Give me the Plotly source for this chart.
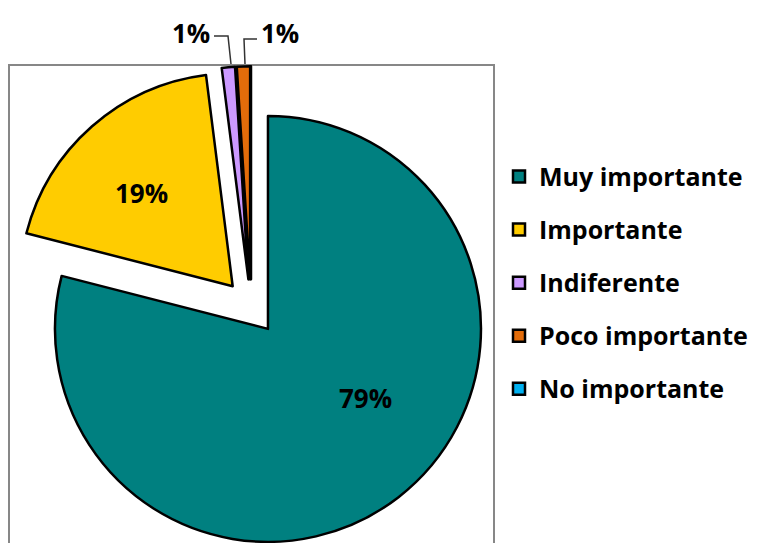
import plotly.graph_objects as go

# Survey answers and their counts
categories = ["Muy importante", "Importante", "Indiferente", "Poco importante", "No importante"]
values = [79, 19, 1, 1, 0]
colors = ["#008080", "#FFCC00", "#CC99FF", "#E36C0A", "#00B0F0"]

W, H = 757, 548
FONT = "Open Sans"


def px(x, y):
    """Pixel position -> paper coordinates."""
    return x / W, 1 - y / H


total = sum(values)
pct = [f"{round(v / total * 100)}%" for v in values]

# pie centre, radius and explosion
cx, cy, r, pull = 251, 307, 213, 0.13
half = r * (1 + pull)
fig = go.Figure(
    go.Pie(
        labels=[f"<span style='font-size:25px;baseline-shift:6px'>{c}</span>" for c in categories],
        values=values,
        sort=False,
        direction="clockwise",
        rotation=0,
        pull=pull,
        marker=dict(colors=colors, line=dict(color="black", width=2.5)),
        textinfo="none",
        domain=dict(x=[(cx - half - 4) / W, (cx + half + 4) / W],
                    y=[max(0, 1 - (cy + half) / H), 1 - (cy - half) / H]),
        hoverinfo="label+percent",
    )
)

label_font = dict(family=FONT, size=26, color="black", weight="bold")

# value labels inside the two large slices
for idx, (tx, ty) in [(0, (365, 398)), (1, (141, 193))]:
    X, Y = px(tx, ty)
    fig.add_annotation(x=X, y=Y, xref="paper", yref="paper", text=pct[idx],
                       showarrow=False, xanchor="center", yanchor="middle", font=label_font)

# callouts for the two thin slices
callouts = [
    (2, (191, 33), "M 214,36 L 228,36 L 231,64"),
    (3, (280, 33), "M 257,39 L 244,39 L 245,64"),
]
for idx, (tx, ty), path in callouts:
    X, Y = px(tx, ty)
    fig.add_annotation(x=X, y=Y, xref="paper", yref="paper", text=pct[idx],
                       showarrow=False, xanchor="center", yanchor="middle", font=label_font)
    pts = []
    for tok in path.split():
        if tok in ("M", "L"):
            pts.append(tok)
        else:
            x, y = map(float, tok.split(","))
            PX, PY = px(x, y)
            pts.append(f"{PX:.5f},{PY:.5f}")
    fig.add_shape(type="path", path=" ".join(pts), xref="paper", yref="paper",
                  line=dict(color="#333333", width=1.5))

# plot-area frame
x0, y0 = px(9, 65)
x1, _ = px(494, 65)
fig.add_shape(type="rect", xref="paper", yref="paper", x0=x0, x1=x1, y0=-0.05, y1=y0,
              line=dict(color="#878787", width=2), layer="below")

lx, ly = px(499, 145)
fig.update_layout(
    width=W,
    height=H,
    margin=dict(l=0, r=0, t=0, b=0),
    paper_bgcolor="white",
    plot_bgcolor="white",
    font=dict(family=FONT, color="black"),
    showlegend=True,
    legend=dict(
        x=lx, y=ly, xanchor="left", yanchor="top",
        font=dict(family=FONT, size=38.5, color="black", weight="bold"),
        bgcolor="rgba(0,0,0,0)",
    ),
)

fig.write_html(
    "out.html",
    post_script="document.documentElement.style.overflow='hidden';"
                "document.body.style.overflow='hidden';",
)
